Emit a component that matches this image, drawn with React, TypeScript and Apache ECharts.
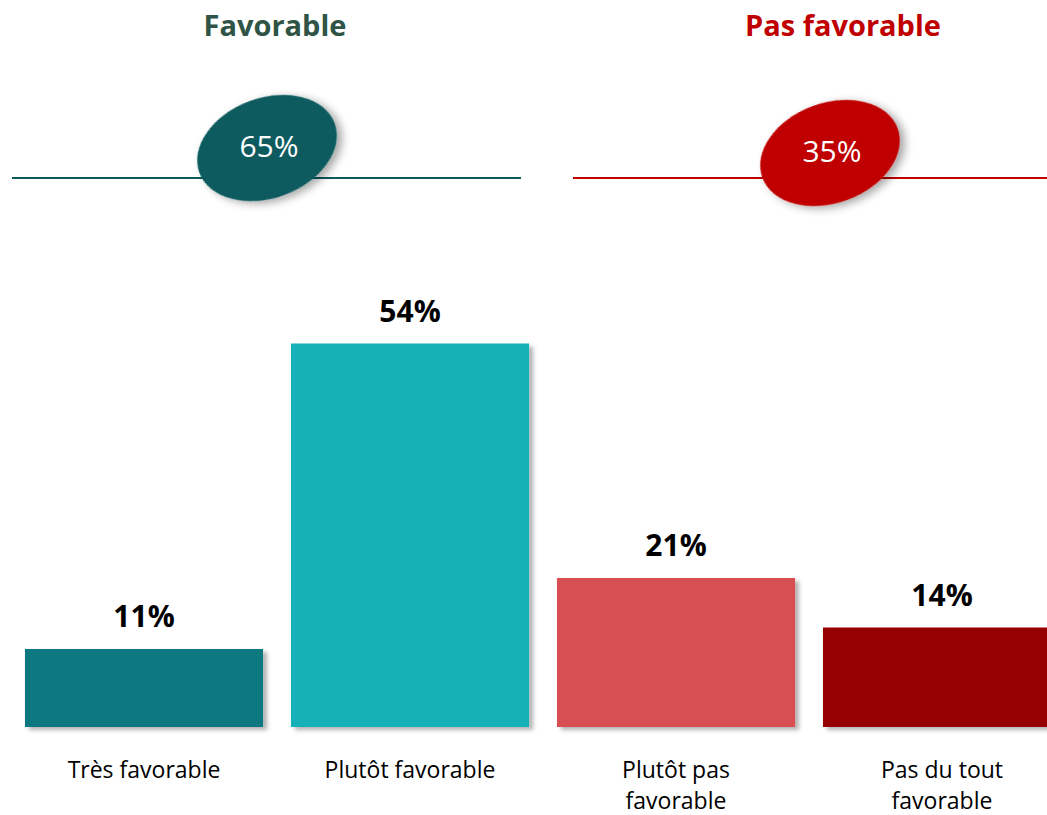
import React, { useEffect, useRef } from "react";
import * as echarts from "echarts";

const categories = ["Très favorable", "Plutôt favorable", "Plutôt pas\nfavorable", "Pas du tout\nfavorable"];
const values = [11, 54, 21, 14];
const barColors = ["#0F7880", "#14B0B8", "#D84F52", "#960000"];
const groupTitles = ["Favorable", "Pas favorable"];
const groupTotals = [65, 35];
const groupColors = ["#0B5A5E", "#C00000"];
const titleColors = ["#2F5446", "#C00000"];

const FONT = "'Open Sans', 'Noto Sans', sans-serif";

export default function App() {
  const ref = useRef<HTMLDivElement>(null);
  useEffect(() => {
    if (!ref.current) return;
    const chart = echarts.init(ref.current, null, { renderer: "svg" });
    const ellipseShadow = {
      shadowBlur: 8,
      shadowOffsetX: 4,
      shadowOffsetY: 4,
      shadowColor: "rgba(0,0,0,0.35)",
    };
    const groups = [
      { titleX: 275, lineX1: 12, lineX2: 521, cx: 267, cy: 148 },
      { titleX: 843, lineX1: 573, lineX2: 1047, cx: 830, cy: 153 },
    ];
    const graphic: any[] = [];
    groups.forEach((g, i) => {
      graphic.push({
        type: "text",
        x: g.titleX,
        y: 24,
        z: 10,
        style: {
          text: groupTitles[i],
          fill: titleColors[i],
          font: `bold 29px ${FONT}`,
          textAlign: "center",
          textVerticalAlign: "middle",
        },
      });
      graphic.push({
        type: "line",
        z: 5,
        shape: { x1: g.lineX1, y1: 178, x2: g.lineX2, y2: 178 },
        style: { stroke: groupColors[i], lineWidth: 2 },
      });
      graphic.push({
        type: "ellipse",
        z: 10,
        x: g.cx,
        y: g.cy,
        rotation: (20 * Math.PI) / 180,
        shape: { cx: 0, cy: 0, rx: 72, ry: 50 },
        style: { fill: groupColors[i], ...ellipseShadow },
      });
      graphic.push({
        type: "text",
        z: 11,
        x: g.cx + 2,
        y: g.cy - 3,
        style: {
          text: `${groupTotals[i]}%`,
          fill: "#FFFFFF",
          font: `30px ${FONT}`,
          textAlign: "center",
          textVerticalAlign: "middle",
        },
      });
    });

    chart.setOption({
      animation: false,
      grid: { left: 11, right: 0, top: 301, bottom: 84, containLabel: false },
      xAxis: {
        type: "category",
        data: categories,
        axisLine: { show: false },
        axisTick: { show: false },
        axisLabel: {
          color: "#000",
          fontSize: 23,
          lineHeight: 31,
          fontFamily: FONT,
          margin: 26,
          interval: 0,
        },
      },
      yAxis: {
        type: "value",
        min: 0,
        max: 60,
        show: false,
        splitLine: { show: false },
      },
      series: [
        {
          type: "bar",
          barCategoryGap: "10.5%",
          data: values.map((v, i) => ({
            value: v,
            itemStyle: {
              color: barColors[i],
              shadowBlur: 4,
              shadowOffsetX: 4,
              shadowOffsetY: 3,
              shadowColor: "rgba(0,0,0,0.3)",
            },
          })),
          label: {
            show: true,
            position: "top",
            distance: 18,
            formatter: "{c}%",
            color: "#000",
            fontWeight: "bold",
            fontSize: 30,
            fontFamily: FONT,
          },
        },
      ],
      graphic,
    });
    return () => chart.dispose();
  }, []);
  return (
    <div style={{ position: "fixed", left: 0, top: 0, width: 1047, height: 815, overflow: "hidden", background: "#fff" }}>
      <div ref={ref} style={{ position: "absolute", left: 0, top: 0, width: 1075, height: 815 }} />
    </div>
  );
}
